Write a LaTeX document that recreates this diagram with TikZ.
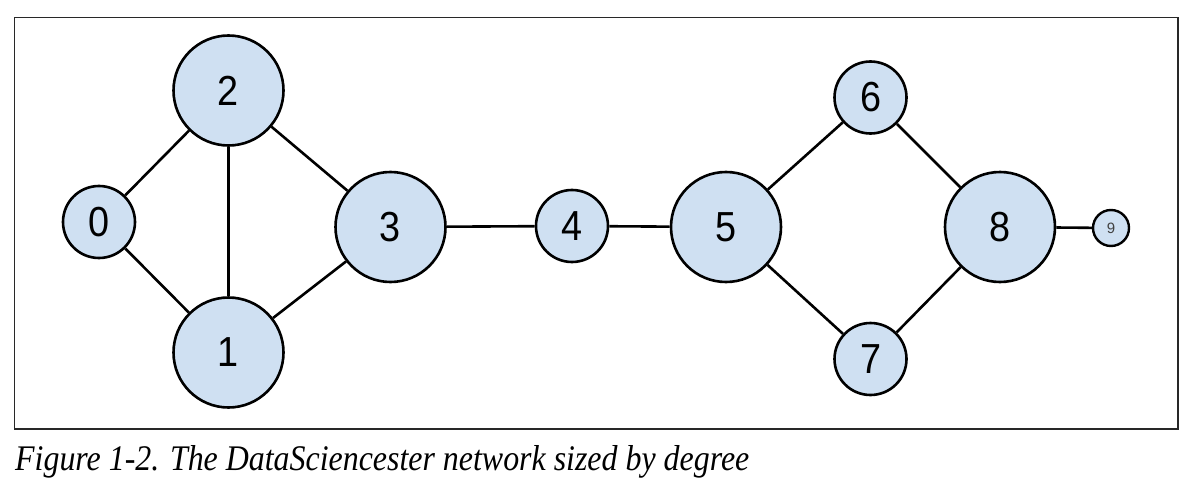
\documentclass[tikz,border=0pt]{standalone}
\usepackage{fontspec}
\setmainfont{Liberation Serif}
\setsansfont{Liberation Sans}
\usepackage{graphicx}
\definecolor{nodefill}{RGB}{207,224,242}
\definecolor{framecol}{RGB}{40,40,40}
\begin{document}
\begin{tikzpicture}[x=1pt,y=-1pt,
  vert/.style={circle,draw=black,line width=2.6pt,fill=nodefill,inner sep=0pt,
    font=\sffamily\fontsize{42}{42}\selectfont},
  bigv/.style={vert,minimum size=110pt},
  smallv/.style={vert,minimum size=72pt},
  tinyv/.style={vert,minimum size=36pt,line width=2.4pt,text=black!75,
    font=\sffamily\fontsize{15}{15}\selectfont},
  link/.style={line width=2.6pt,black}]
\useasboundingbox (0,0) rectangle (1204,492);
\draw[line width=1.3pt,framecol] (14.5,17.5) rectangle (1178,429);
\node[smallv] (n0) at (99,222) {\scalebox{0.9}[1]{0}};
\node[bigv] (n2) at (228.5,90.5) {\scalebox{0.9}[1]{2}};
\node[bigv] (n1) at (228.5,352.5) {\scalebox{0.9}[1]{1}};
\node[bigv] (n3) at (390.5,227) {\scalebox{0.9}[1]{3}};
\node[smallv] (n4) at (572,226) {\scalebox{0.9}[1]{4}};
\node[bigv] (n5) at (726,227) {\scalebox{0.9}[1]{5}};
\node[smallv] (n6) at (870.5,97.5) {\scalebox{0.9}[1]{6}};
\node[smallv] (n7) at (870.5,359) {\scalebox{0.9}[1]{7}};
\node[bigv] (n8) at (1000,227) {\scalebox{0.9}[1]{8}};
\node[tinyv] (n9) at (1111,228) {9};
\draw[link] (n0) -- (n2);
\draw[link] (n0) -- (n1);
\draw[link] (n2) -- (n1);
\draw[link] (n2) -- (n3);
\draw[link] (n1) -- (n3);
\draw[link] (n3) -- (n4);
\draw[link] (n4) -- (n5);
\draw[link] (n5) -- (n6);
\draw[link] (n5) -- (n7);
\draw[link] (n6) -- (n8);
\draw[link] (n7) -- (n8);
\draw[link] (n8) -- (n9);
\node[anchor=base west,inner sep=0pt] (cap) at (15,470)
  {\resizebox{734pt}{25pt}{\itshape Figure 1-2. The DataSciencester network sized by degree}};
\end{tikzpicture}
\end{document}
